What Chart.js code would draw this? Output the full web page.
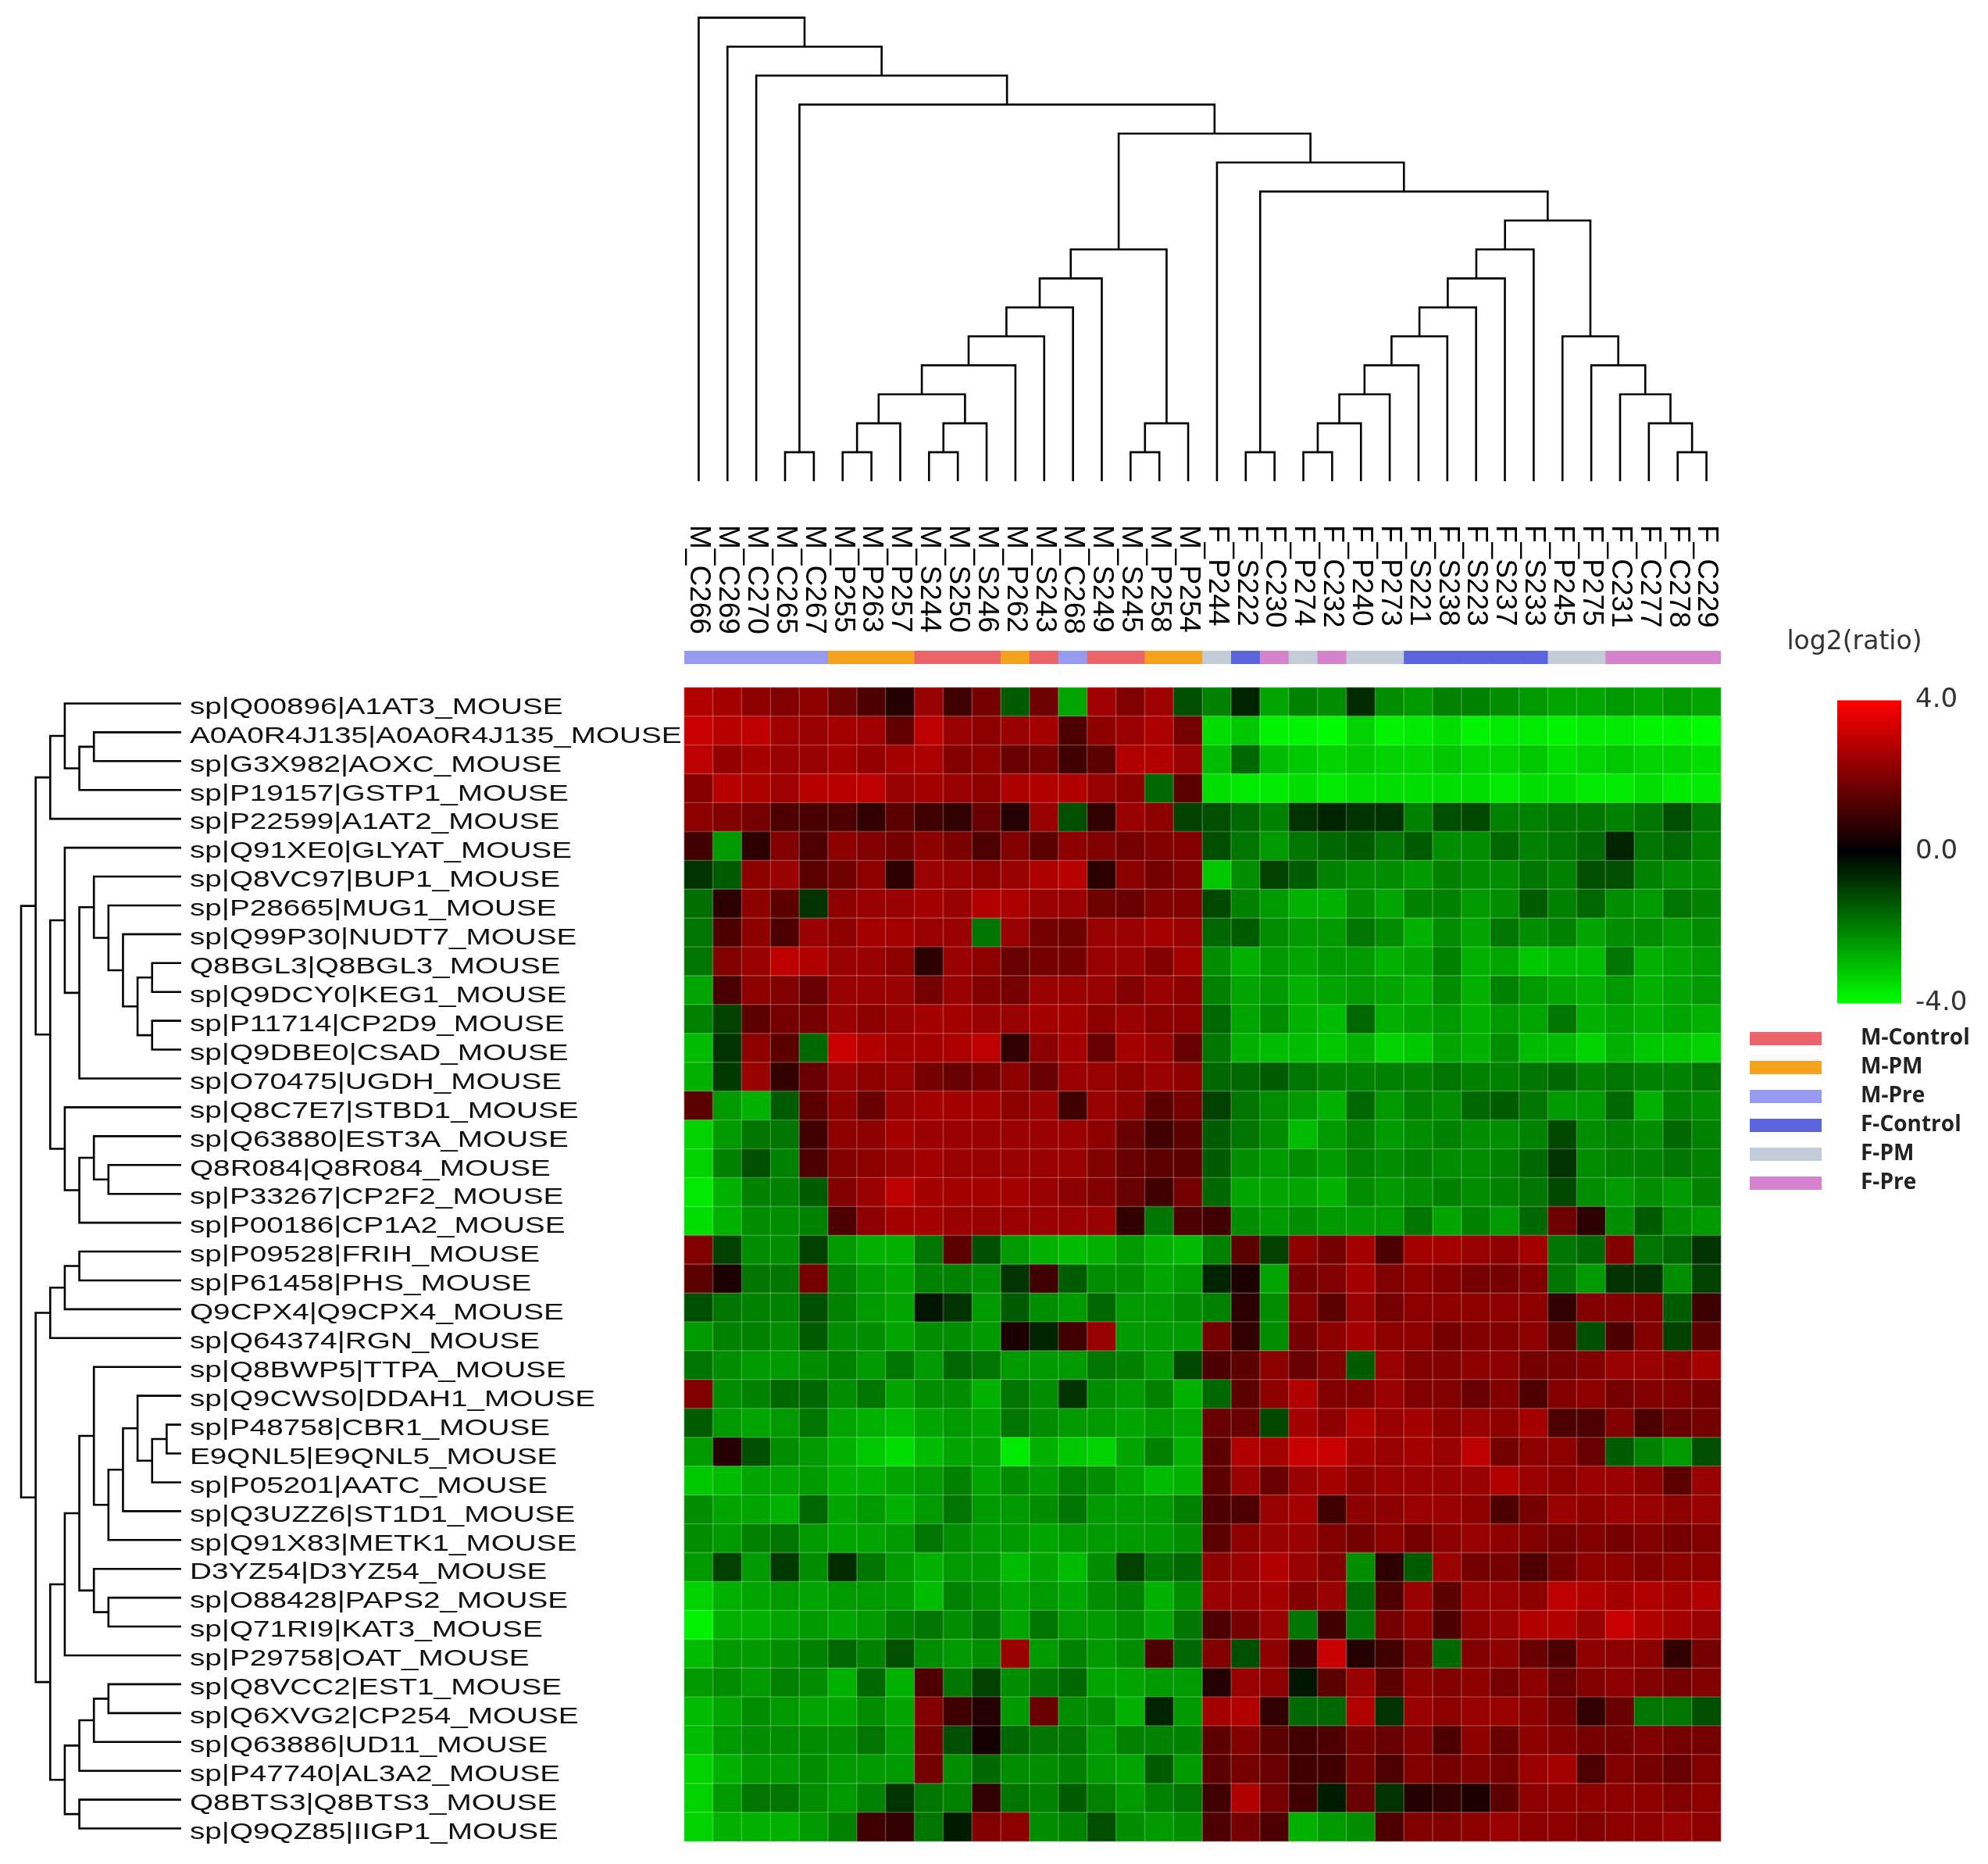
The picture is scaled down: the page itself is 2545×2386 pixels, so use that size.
<!DOCTYPE html>
<html>
<head>
<meta charset="utf-8">
<script src="https://cdn.jsdelivr.net/npm/chart.js@4.4.0/dist/chart.umd.min.js"></script>
<style>
  html, body { margin: 0; padding: 0; background: #fff; }
  #page { position: relative; width: 2545px; height: 2386px; overflow: hidden; }
  canvas { position: absolute; }
</style>
</head>
<body>
<div id="page">
  <canvas id="heat" width="2545" height="2386" style="left:0;top:0"></canvas>
  <canvas id="colTree" width="1327" height="616" style="left:876px;top:0"></canvas>
  <canvas id="rowTree" width="232" height="1477" style="left:0;top:882px"></canvas>
  <canvas id="strip" width="1327" height="17" style="left:876px;top:833px"></canvas>
  <canvas id="scale" width="164" height="465" style="left:2352px;top:858px"></canvas>
</div>
<script>
// samples (columns), in dendrogram order
var colLabels = ["M_C266", "M_C269", "M_C270", "M_C265", "M_C267", "M_P255", "M_P263", "M_P257",
  "M_S244", "M_S250", "M_S246", "M_P262", "M_S243", "M_C268", "M_S249", "M_S245", "M_P258", "M_P254",
  "F_P244", "F_S222", "F_C230", "F_P274", "F_C232", "F_P240", "F_P273", "F_S221", "F_S238", "F_S223",
  "F_S237", "F_S233", "F_P245", "F_P275", "F_C231", "F_C277", "F_C278", "F_C229"];

var colGroups = ["M-Pre", "M-Pre", "M-Pre", "M-Pre", "M-Pre", "M-PM", "M-PM", "M-PM",
  "M-Control", "M-Control", "M-Control", "M-PM", "M-Control", "M-Pre", "M-Control", "M-Control", "M-PM", "M-PM",
  "F-PM", "F-Control", "F-Pre", "F-PM", "F-Pre", "F-PM", "F-PM", "F-Control", "F-Control", "F-Control",
  "F-Control", "F-Control", "F-PM", "F-PM", "F-Pre", "F-Pre", "F-Pre", "F-Pre"];

var groupNames = ["M-Control", "M-PM", "M-Pre", "F-Control", "F-PM", "F-Pre"];
var groupColors = ["#eb6469", "#f5a31e", "#969bf0", "#5a64dc", "#c3cdd7", "#d782cd"];

// proteins (rows), in dendrogram order
var rowLabels = ["sp|Q00896|A1AT3_MOUSE", "A0A0R4J135|A0A0R4J135_MOUSE", "sp|G3X982|AOXC_MOUSE",
  "sp|P19157|GSTP1_MOUSE", "sp|P22599|A1AT2_MOUSE", "sp|Q91XE0|GLYAT_MOUSE", "sp|Q8VC97|BUP1_MOUSE",
  "sp|P28665|MUG1_MOUSE", "sp|Q99P30|NUDT7_MOUSE", "Q8BGL3|Q8BGL3_MOUSE", "sp|Q9DCY0|KEG1_MOUSE",
  "sp|P11714|CP2D9_MOUSE", "sp|Q9DBE0|CSAD_MOUSE", "sp|O70475|UGDH_MOUSE", "sp|Q8C7E7|STBD1_MOUSE",
  "sp|Q63880|EST3A_MOUSE", "Q8R084|Q8R084_MOUSE", "sp|P33267|CP2F2_MOUSE", "sp|P00186|CP1A2_MOUSE",
  "sp|P09528|FRIH_MOUSE", "sp|P61458|PHS_MOUSE", "Q9CPX4|Q9CPX4_MOUSE", "sp|Q64374|RGN_MOUSE",
  "sp|Q8BWP5|TTPA_MOUSE", "sp|Q9CWS0|DDAH1_MOUSE", "sp|P48758|CBR1_MOUSE", "E9QNL5|E9QNL5_MOUSE",
  "sp|P05201|AATC_MOUSE", "sp|Q3UZZ6|ST1D1_MOUSE", "sp|Q91X83|METK1_MOUSE", "D3YZ54|D3YZ54_MOUSE",
  "sp|O88428|PAPS2_MOUSE", "sp|Q71RI9|KAT3_MOUSE", "sp|P29758|OAT_MOUSE", "sp|Q8VCC2|EST1_MOUSE",
  "sp|Q6XVG2|CP254_MOUSE", "sp|Q63886|UD11_MOUSE", "sp|P47740|AL3A2_MOUSE", "Q8BTS3|Q8BTS3_MOUSE",
  "sp|Q9QZ85|IIGP1_MOUSE"];

// log2(ratio), one row per protein, one value per sample
var heatValues = [
  [2.6,2.4,2.0,1.8,2.0,1.5,1.0,0.4,2.2,0.8,1.6,-1.2,1.5,-2.4,2.3,1.8,2.3,-1.0,-1.8,-0.4,-2.4,-1.8,-2.0,-0.5,-2.0,-2.2,-1.8,-1.8,-2.0,-2.2,-2.4,-2.4,-2.2,-2.4,-2.2,-2.4],
  [3.0,2.7,2.8,2.3,2.2,2.4,2.3,1.3,2.8,2.2,2.0,2.2,2.4,1.0,2.0,2.2,2.5,1.6,-3.4,-3.0,-3.8,-3.8,-3.9,-3.2,-3.8,-3.6,-3.4,-3.8,-3.6,-3.6,-3.8,-3.6,-3.6,-3.8,-3.8,-3.9],
  [2.8,2.1,2.4,2.2,2.2,2.4,2.1,2.4,2.5,1.8,2.0,1.4,1.6,0.8,1.2,2.6,2.6,2.2,-2.8,-1.4,-2.8,-3.0,-3.2,-3.0,-3.2,-3.2,-3.0,-3.2,-3.2,-3.0,-3.4,-3.2,-3.0,-3.2,-3.2,-3.4],
  [1.9,2.7,2.5,2.3,2.7,2.7,2.8,2.2,2.4,2.2,2.0,2.5,2.6,2.6,2.2,2.0,-1.4,1.2,-3.4,-3.6,-3.6,-3.4,-3.6,-3.4,-3.4,-3.4,-3.4,-3.4,-3.6,-3.4,-3.4,-3.6,-3.6,-3.4,-3.6,-3.6],
  [2.0,1.8,1.6,1.0,0.9,1.0,0.6,1.2,0.8,0.6,1.4,0.4,2.2,-1.0,0.6,2.2,2.0,-0.8,-1.0,-1.4,-1.8,-0.6,-0.4,-0.6,-0.6,-1.8,-1.0,-0.9,-1.8,-1.8,-1.6,-1.6,-1.8,-1.6,-1.0,-1.6],
  [0.8,-2.2,0.5,1.8,1.0,2.0,1.8,1.6,2.0,1.7,1.0,1.8,1.2,2.0,1.8,1.6,1.8,1.8,-1.0,-1.6,-2.2,-1.6,-1.4,-1.2,-1.6,-1.2,-2.0,-2.0,-1.4,-1.8,-1.6,-1.4,-0.4,-1.6,-1.4,-1.8],
  [-0.6,-1.2,2.0,2.2,1.2,1.5,2.0,0.5,2.2,2.2,2.0,2.2,2.5,2.7,0.5,2.0,1.6,1.8,-3.0,-2.0,-0.8,-1.2,-1.8,-2.0,-2.0,-2.2,-1.8,-2.0,-2.0,-1.6,-1.8,-1.0,-1.0,-1.8,-2.0,-2.0],
  [-1.5,0.5,2.0,1.2,-0.6,2.0,2.2,2.2,2.4,2.2,2.6,2.5,2.2,2.2,1.5,1.4,1.8,1.8,-0.9,-1.8,-2.2,-2.6,-2.6,-2.0,-2.4,-1.8,-1.8,-2.2,-2.0,-1.2,-1.8,-1.4,-2.0,-2.2,-1.6,-1.8],
  [-1.6,1.0,2.0,1.0,2.2,2.0,2.4,2.4,2.2,2.2,-1.6,2.2,1.6,1.5,2.2,2.2,2.4,2.2,-1.4,-1.2,-2.0,-2.2,-2.2,-1.6,-2.0,-2.6,-2.0,-2.4,-1.6,-2.0,-1.8,-2.4,-2.0,-2.0,-2.2,-2.0],
  [-1.6,1.8,2.2,2.8,2.6,2.2,2.2,2.0,0.5,2.2,2.0,1.4,1.6,1.6,2.2,2.2,1.8,2.4,-2.0,-2.6,-2.2,-2.4,-2.2,-2.2,-2.6,-2.4,-1.8,-2.6,-2.4,-3.0,-2.8,-2.8,-1.6,-2.6,-2.4,-2.2],
  [-2.4,0.9,2.0,1.8,1.4,2.2,2.2,2.2,1.6,2.2,1.8,1.6,2.2,2.2,2.2,1.8,2.2,2.0,-1.8,-2.4,-2.2,-2.6,-2.4,-2.2,-2.4,-2.6,-2.0,-2.6,-1.8,-2.2,-2.4,-2.6,-2.2,-2.6,-2.4,-2.2],
  [-1.8,-0.8,1.2,1.6,1.6,2.2,2.0,2.2,2.4,2.4,2.2,2.2,2.4,2.4,2.0,2.2,2.0,2.0,-1.4,-2.4,-2.0,-2.6,-2.8,-1.4,-2.6,-2.4,-2.2,-2.6,-2.2,-2.4,-1.6,-2.6,-2.4,-2.6,-2.4,-2.6],
  [-2.8,-0.6,2.0,1.2,-1.4,3.0,2.6,2.4,2.4,2.5,2.8,0.6,2.0,2.4,1.4,2.4,2.2,1.4,-1.6,-2.6,-2.8,-2.8,-3.0,-2.6,-3.2,-3.0,-2.4,-2.6,-2.0,-2.8,-2.8,-3.2,-2.6,-3.0,-3.0,-3.2],
  [-2.6,-0.7,2.2,0.6,1.4,2.2,2.0,2.2,1.6,1.4,1.6,2.0,1.4,2.2,2.2,2.0,2.2,2.0,-1.4,-1.4,-1.2,-1.6,-1.8,-1.8,-1.8,-1.8,-1.6,-1.8,-1.8,-1.6,-1.4,-1.8,-1.6,-1.8,-1.8,-1.6],
  [1.2,-2.2,-2.6,-1.2,1.2,2.0,1.4,2.2,2.4,2.4,2.4,2.0,2.2,0.8,2.2,2.0,1.2,1.6,-0.8,-1.6,-2.0,-2.2,-2.6,-1.4,-2.2,-1.8,-2.0,-1.4,-1.2,-1.6,-2.2,-2.2,-1.4,-2.6,-1.8,-2.0],
  [-3.2,-2.2,-1.6,-1.6,0.8,2.0,2.0,2.4,2.2,2.2,2.2,2.2,2.2,2.2,2.0,1.4,0.8,1.2,-1.2,-1.6,-2.0,-2.8,-2.2,-1.8,-2.2,-2.0,-1.8,-2.0,-2.0,-1.8,-0.9,-2.0,-1.8,-2.0,-1.4,-1.8],
  [-3.2,-1.8,-1.0,-1.8,1.0,1.8,2.0,2.2,2.4,2.2,2.2,2.2,2.2,2.2,1.8,1.4,1.2,1.2,-1.2,-2.0,-2.2,-2.0,-2.2,-1.8,-2.0,-1.8,-2.0,-2.0,-1.8,-1.4,-0.6,-2.0,-1.8,-1.8,-1.6,-1.8],
  [-3.6,-2.6,-1.8,-1.8,-1.2,1.8,2.2,2.8,2.4,2.4,2.4,2.4,2.2,2.0,1.8,1.4,0.8,1.6,-1.4,-2.4,-2.4,-2.4,-2.6,-2.0,-2.2,-2.0,-1.8,-2.0,-1.8,-1.6,-0.9,-2.0,-2.2,-2.0,-2.2,-1.8],
  [-3.4,-2.6,-2.0,-2.0,-1.8,1.0,2.0,2.4,2.4,2.2,2.2,2.2,2.2,2.2,2.2,0.6,-1.6,1.0,0.8,-2.0,-2.2,-2.0,-2.2,-2.2,-2.2,-1.6,-2.4,-1.8,-2.2,-1.4,1.5,0.5,-2.0,-1.2,-2.0,-2.2],
  [1.8,-0.8,-2.0,-2.0,-0.8,-2.2,-2.6,-2.6,-1.6,1.2,-1.0,-2.2,-2.6,-2.8,-2.6,-2.2,-2.6,-2.8,-1.8,1.2,-0.8,2.0,1.6,2.4,1.0,2.4,2.4,2.2,2.0,2.4,-1.6,-1.4,1.8,-1.6,-1.4,-0.6],
  [1.2,0.3,-1.6,-1.6,1.6,-1.8,-2.2,-2.4,-1.8,-1.8,-2.0,-0.6,0.8,-1.2,-2.0,-2.0,-2.4,-2.2,-0.4,0.3,-2.4,1.6,1.8,2.4,1.8,2.0,1.8,1.6,1.6,1.8,-1.6,-2.2,-0.6,-0.6,-2.0,-0.8],
  [-1.0,-1.6,-1.8,-1.8,-1.0,-1.8,-2.2,-2.4,-0.2,-0.6,-2.2,-1.2,-2.0,-2.2,-1.4,-2.2,-2.2,-2.0,-1.8,0.5,-2.0,1.8,1.2,2.2,1.6,2.0,2.0,2.0,2.0,2.0,0.6,1.8,1.8,1.8,-1.2,0.7],
  [-2.2,-1.8,-1.8,-2.0,-1.2,-2.0,-2.0,-2.4,-2.0,-2.0,-2.2,0.3,-0.4,0.8,2.2,-2.2,-2.2,-2.2,1.6,0.6,-2.0,1.6,2.0,2.4,2.0,2.0,1.6,1.8,1.8,2.0,1.2,-1.0,1.0,1.8,-0.8,1.2],
  [-1.6,-2.0,-2.2,-2.2,-2.0,-1.8,-2.2,-1.6,-2.2,-1.4,-1.6,-2.2,-2.2,-2.2,-1.6,-1.8,-2.2,-0.9,1.0,1.2,2.0,1.4,1.8,-1.2,2.2,1.8,1.8,2.0,2.0,1.6,1.6,1.8,2.2,2.2,2.0,2.4],
  [1.8,-2.0,-1.8,-1.4,-1.4,-2.0,-1.6,-2.4,-2.0,-2.0,-2.6,-1.6,-2.0,-0.6,-2.0,-2.2,-1.8,-2.6,-1.4,1.2,2.0,2.6,1.8,1.8,2.2,1.8,1.8,1.4,1.8,1.0,1.8,2.0,1.6,1.8,1.8,1.6],
  [-1.2,-2.2,-2.4,-2.2,-1.6,-2.4,-2.6,-2.8,-2.4,-2.2,-2.4,-1.6,-2.0,-2.2,-2.2,-2.4,-2.2,-2.4,1.4,1.4,-0.9,2.4,2.0,2.6,2.2,2.4,2.0,2.2,2.0,2.4,1.0,1.0,1.8,1.0,1.4,1.6],
  [-2.2,0.4,-1.0,-2.0,-2.2,-2.6,-3.0,-3.4,-2.8,-2.4,-2.4,-3.6,-2.6,-3.0,-3.2,-2.4,-1.8,-2.6,1.2,2.6,2.4,3.0,3.0,2.4,2.2,2.4,2.2,2.8,1.6,2.0,2.0,1.4,-1.2,-1.8,-2.2,-1.0],
  [-3.0,-2.8,-2.4,-2.4,-2.2,-2.6,-2.6,-2.4,-2.2,-1.8,-2.4,-2.0,-2.2,-1.8,-2.0,-2.4,-2.8,-2.6,1.2,2.2,1.4,2.2,2.4,2.0,2.2,2.2,2.2,2.2,2.6,2.2,2.0,2.2,2.2,2.0,1.2,2.2],
  [-2.0,-2.4,-2.4,-2.6,-1.4,-2.4,-2.2,-2.6,-2.2,-1.6,-2.2,-2.2,-2.0,-1.6,-2.2,-2.2,-2.2,-1.8,1.0,1.0,2.2,2.4,0.8,2.0,2.0,2.2,2.2,2.0,1.0,1.6,2.2,2.0,2.2,2.2,2.0,2.2],
  [-2.0,-2.2,-1.8,-1.6,-2.2,-2.4,-2.4,-2.2,-1.6,-2.0,-2.2,-2.2,-2.4,-2.2,-2.2,-2.2,-2.2,-2.0,1.2,2.0,2.2,2.2,1.8,1.6,2.0,1.6,2.0,2.2,2.0,1.8,1.6,1.8,1.6,1.8,1.6,1.8],
  [-2.2,-0.8,-2.2,-0.7,-2.0,-0.5,-1.6,-2.2,-2.6,-2.2,-2.2,-2.8,-2.4,-2.8,-2.0,-0.8,-1.6,-1.4,2.0,2.2,2.6,2.2,1.8,-2.0,0.5,-1.2,2.2,1.6,1.6,1.0,1.6,2.0,2.0,1.8,2.0,2.0],
  [-3.2,-2.6,-2.4,-2.2,-2.4,-2.2,-2.2,-2.2,-2.8,-1.8,-2.0,-2.4,-2.2,-2.4,-2.0,-1.8,-2.6,-2.0,2.2,2.2,2.4,1.8,2.2,-1.4,1.0,2.2,1.2,2.2,2.2,2.0,2.8,2.6,2.4,2.6,2.4,2.6],
  [-3.8,-2.6,-2.6,-2.4,-2.2,-2.4,-2.2,-1.8,-1.6,-2.0,-1.6,-2.4,-1.6,-2.2,-2.2,-2.0,-2.4,-1.6,1.0,1.6,2.2,-1.6,0.8,-1.6,1.6,2.0,1.0,2.0,2.2,2.6,2.6,2.2,3.0,2.6,2.4,2.2],
  [-2.8,-2.2,-2.2,-2.0,-1.8,-1.4,-1.8,-1.0,-2.0,-2.2,-2.0,2.2,-2.2,-1.8,-2.2,-2.0,1.0,-1.4,1.8,-1.0,2.0,0.6,3.0,0.4,0.8,1.6,-1.4,1.8,2.0,1.4,1.0,2.0,2.0,2.0,0.6,1.6],
  [-2.2,-2.0,-2.2,-1.8,-2.0,-2.6,-1.4,-2.6,1.0,-1.6,-0.8,-2.0,-1.6,-1.4,-2.4,-2.4,-2.2,-2.2,0.4,2.2,2.0,-0.2,1.2,2.2,1.2,2.0,1.8,2.0,1.6,2.0,1.4,1.8,2.0,1.8,1.6,1.8],
  [-2.8,-2.4,-2.0,-2.2,-2.4,-2.4,-2.0,-2.4,1.8,0.8,0.4,-2.2,1.4,-2.0,-2.0,-2.6,-0.4,-2.2,2.4,2.6,0.6,-1.4,-1.4,2.6,-0.6,2.2,2.0,2.2,2.2,2.0,1.6,0.6,1.4,-1.6,-1.6,-1.0],
  [-2.8,-2.2,-2.0,-2.0,-2.0,-2.0,-1.6,-2.2,1.6,-1.0,0.2,-1.4,-1.6,-1.6,-2.2,-1.8,-1.8,-1.8,1.2,1.8,1.2,0.8,1.0,1.6,1.4,1.8,1.0,2.0,1.4,2.0,1.8,1.6,1.6,1.8,1.6,1.6],
  [-3.2,-2.6,-2.2,-2.2,-2.0,-2.2,-2.2,-2.2,1.6,-2.0,-1.4,-2.0,-2.0,-1.8,-2.2,-2.4,-1.2,-2.2,1.2,1.6,1.4,0.8,0.8,1.6,1.0,1.8,1.6,1.8,1.6,2.2,2.4,1.0,1.8,1.6,1.4,1.8],
  [-3.2,-2.2,-1.6,-1.6,-2.0,-2.2,-1.8,-0.6,-1.6,-1.8,0.6,-1.6,-1.8,-1.2,-1.8,-2.2,-1.8,-1.6,0.8,2.6,1.6,0.8,-0.3,1.4,-0.6,0.4,0.6,0.3,1.2,2.0,2.0,2.0,2.0,2.0,1.8,2.0],
  [-3.2,-2.6,-2.6,-2.6,-2.2,-1.8,0.8,0.6,-1.6,-0.3,1.8,2.0,-2.0,-1.8,-1.0,-2.0,-2.2,-2.0,1.0,1.6,1.0,-2.6,-2.2,-2.0,1.0,1.8,1.8,2.0,2.2,2.0,2.0,1.8,2.0,2.0,2.2,2.0]
];

// sample tree: [child a, child b, merge level]; ids >= 36 are earlier merges
var colLinks = [
  [3,4,1],[5,6,1],[8,9,1],[15,16,1],[19,20,1],[21,22,1],[34,35,1],
  [37,7,2],[38,10,2],[39,17,2],[41,23,2],[33,42,2],
  [43,44,3],[46,24,3],[32,47,3],
  [48,11,4],[49,25,4],[31,50,4],
  [51,12,5],[52,26,5],[30,53,5],
  [54,13,6],[55,27,6],
  [57,14,7],[58,28,7],
  [59,45,8],[60,29,8],
  [62,56,9],[40,63,10],[18,64,11],[61,65,12],[36,66,13],[2,67,14],[1,68,15],[0,69,16]
];

// protein tree: ids >= 40 are earlier merges
var rowLinks = [
  [1,2,6],[40,3,7],[0,41,8],[42,4,9],
  [9,10,2],[11,12,2],[44,45,3],[8,46,4],[7,47,5],[6,48,6],[49,13,7],[5,50,8],
  [16,17,5],[15,52,6],[53,18,7],[14,54,8],[51,55,9],[43,56,10],
  [19,20,7],[58,21,8],[59,22,9],
  [25,26,1],[61,27,2],[24,62,3],[63,28,4],[64,29,5],[23,65,6],
  [31,32,5],[30,67,6],[66,68,7],[69,33,8],
  [34,35,5],[71,36,6],[72,37,7],[38,39,7],[73,74,8],[70,75,9],
  [60,76,10],[57,77,11]
];

var scaleTicks = [-4, 0, 4];

function cellColor(v) {
  var c = Math.round(255 * Math.pow(Math.min(Math.abs(v) / 4, 1), 0.85));
  return v >= 0 ? "rgb(" + c + ",0,0)" : "rgb(0," + c + ",0)";
}

// elbow segments of a dendrogram, leaf position = index, node position = mean of children
function treeSegments(nLeaves, links) {
  var pos = [], lvl = [];
  for (var i = 0; i < nLeaves; i++) { pos[i] = i; lvl[i] = 0; }
  return links.map(function (l, k) {
    var a = l[0], b = l[1], h = l[2];
    pos[nLeaves + k] = (pos[a] + pos[b]) / 2;
    lvl[nLeaves + k] = h;
    return [[pos[a], lvl[a]], [pos[a], h], [pos[b], h], [pos[b], lvl[b]]];
  });
}

var base = {
  responsive: false,
  animation: false,
  events: [],
  plugins: { legend: { display: false }, tooltip: { enabled: false } }
};

// labels, title and group legend drawn around the heatmap
var decorations = {
  id: "decorations",
  afterDatasetsDraw: function (chart) {
    var ctx = chart.ctx, x = chart.scales.x, y = chart.scales.y;
    ctx.save();
    ctx.textAlign = "left";
    ctx.textBaseline = "middle";

    ctx.font = '30px "Liberation Sans", Arial, sans-serif';
    ctx.fillStyle = "#111";
    rowLabels.forEach(function (lab, i) {
      ctx.save();
      ctx.translate(243, y.getPixelForValue(i) + 7);
      ctx.scale(1.29, 1);
      ctx.fillText(lab, 0, 0);
      ctx.restore();
    });

    ctx.font = '37px "Liberation Sans", Arial, sans-serif';
    ctx.fillStyle = "#000";
    colLabels.forEach(function (lab, i) {
      ctx.save();
      ctx.translate(x.getPixelForValue(i), 672);
      ctx.rotate(Math.PI / 2);
      ctx.fillText(lab, 0, 0);
      ctx.restore();
    });

    ctx.font = '33px "DejaVu Sans", sans-serif';
    ctx.fillStyle = "#333";
    ctx.textAlign = "center";
    ctx.fillText("log2(ratio)", 2374, 822);

    ctx.textAlign = "left";
    ctx.font = 'bold 28px "Open Sans", sans-serif';
    groupNames.forEach(function (g, i) {
      var cy = 1329 + i * 37;
      ctx.fillStyle = groupColors[i];
      ctx.fillRect(2240, cy - 8, 92, 17);
      ctx.fillStyle = "#222";
      ctx.fillText(g, 2382, cy);
    });
    ctx.restore();
  }
};

var heatData = [];
heatValues.forEach(function (row, r) {
  row.forEach(function (v, c) {
    heatData.push({ x: colLabels[c], y: rowLabels[r], v: v });
  });
});

new Chart(document.getElementById("heat"), {
  type: "scatter",
  data: {
    datasets: [{
      data: heatData,
      pointStyle: "rect",
      pointRadius: function (c) {
        var s = c.chart.scales.x;
        var w = Math.abs(s.getPixelForValue(1) - s.getPixelForValue(0));
        return (w + 0.6) / Math.SQRT2;
      },
      backgroundColor: function (c) { return cellColor(c.raw.v); },
      borderColor: "rgba(255,255,255,0.17)",
      borderWidth: 1.8
    }]
  },
  options: Object.assign({}, base, {
    layout: { padding: { left: 876, top: 880, right: 342, bottom: 29 } },
    scales: {
      x: { type: "category", labels: colLabels, offset: true, display: false },
      y: { type: "category", labels: rowLabels, offset: true, display: false }
    }
  }),
  plugins: [decorations]
});

function treeDatasets(segs, swap) {
  return segs.map(function (s) {
    return {
      data: s.map(function (p) { return swap ? { x: p[1], y: p[0] } : { x: p[0], y: p[1] }; }),
      showLine: true,
      borderColor: "#000",
      borderWidth: 2.6,
      pointRadius: 0,
      tension: 0
    };
  });
}

new Chart(document.getElementById("colTree"), {
  type: "scatter",
  data: { datasets: treeDatasets(treeSegments(colLabels.length, colLinks), false) },
  options: Object.assign({}, base, {
    scales: {
      x: { type: "linear", min: -0.5, max: colLabels.length - 0.5, display: false },
      y: { type: "linear", min: 0, max: 16.61, display: false }
    }
  })
});

new Chart(document.getElementById("rowTree"), {
  type: "scatter",
  data: { datasets: treeDatasets(treeSegments(rowLabels.length, rowLinks), true) },
  options: Object.assign({}, base, {
    scales: {
      x: { type: "linear", min: 0, max: 12.45, reverse: true, display: false },
      y: { type: "linear", min: -0.5, max: rowLabels.length - 0.5, reverse: true, display: false }
    }
  })
});

new Chart(document.getElementById("strip"), {
  type: "bar",
  data: {
    labels: colLabels,
    datasets: [{
      data: colGroups.map(function () { return 1; }),
      backgroundColor: colGroups.map(function (g) { return groupColors[groupNames.indexOf(g)]; }),
      borderWidth: 0,
      barPercentage: 1,
      categoryPercentage: 1
    }]
  },
  options: Object.assign({}, base, {
    scales: {
      x: { display: false },
      y: { display: false, min: 0, max: 1 }
    }
  })
});

new Chart(document.getElementById("scale"), {
  type: "bar",
  data: {
    labels: ["log2(ratio)"],
    datasets: [{
      data: [[scaleTicks[0], scaleTicks[scaleTicks.length - 1]]],
      backgroundColor: function (c) {
        var a = c.chart.chartArea;
        if (!a) return "#000";
        var g = c.chart.ctx.createLinearGradient(0, a.top, 0, a.bottom);
        g.addColorStop(0, "#ff0000");
        g.addColorStop(0.5, "#000000");
        g.addColorStop(1, "#00ff00");
        return g;
      },
      borderWidth: 0,
      barPercentage: 1,
      categoryPercentage: 1
    }]
  },
  options: Object.assign({}, base, {
    scales: {
      x: { display: false },
      y: {
        position: "right",
        min: scaleTicks[0],
        max: scaleTicks[scaleTicks.length - 1],
        grid: { display: false, drawTicks: false },
        border: { display: false },
        afterBuildTicks: function (s) { s.ticks = scaleTicks.map(function (v) { return { value: v }; }); },
        ticks: {
          padding: 18,
          color: "#333",
          font: { family: "DejaVu Sans", size: 34 },
          callback: function (v) { return Number(v).toFixed(1); }
        }
      }
    }
  })
});
</script>
</body>
</html>
